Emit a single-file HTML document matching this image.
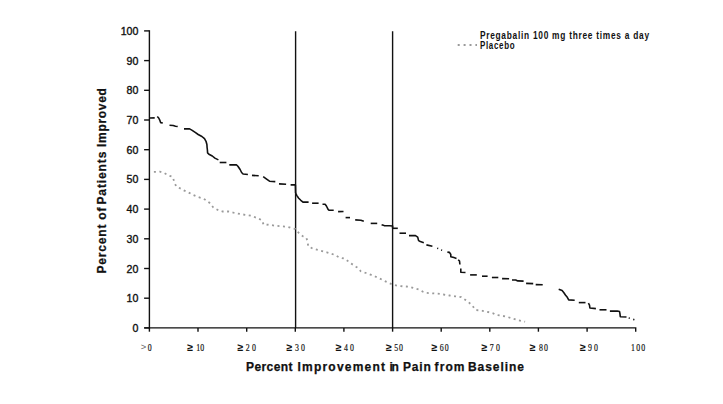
<!DOCTYPE html>
<html><head><meta charset="utf-8"><style>
html,body{margin:0;padding:0;background:#fff;}
body{width:723px;height:404px;overflow:hidden;}
svg{display:block;}
.ax{stroke:#111;stroke-width:1.4;fill:none;}
.pg{stroke:#111;stroke-width:1.6;fill:none;stroke-linejoin:round;stroke-linecap:butt;}
.pl{stroke:#9a9a9a;stroke-width:1.8;fill:none;}
text{font-family:"Liberation Sans",sans-serif;font-weight:bold;fill:#111;}
.yl{font-size:10.6px;font-weight:normal;stroke:#111;stroke-width:0.35px;text-anchor:end;}
.xd{font-family:"Liberation Serif",serif;font-size:10.6px;text-anchor:middle;font-weight:normal;stroke:#111;stroke-width:0.2px;}
.xg{font-size:10.6px;text-anchor:middle;}
.xt{font-size:12px;stroke:#111;stroke-width:0.25px;}
.yt{font-size:12px;stroke:#111;stroke-width:0.25px;}
.lg{font-size:10.2px;letter-spacing:0.9px;}
</style></head><body>
<svg width="723" height="404" viewBox="0 0 723 404">
<rect width="723" height="404" fill="#fff"/>
<line x1="149.4" y1="30.2" x2="149.4" y2="328.6" class="ax"/>
<path d="M144.3 327.9 H635.7 V331.7" class="ax" fill="none"/>
<line x1="144.1" y1="327.9" x2="149.4" y2="327.9" class="ax"/>
<line x1="144.1" y1="298.2" x2="149.4" y2="298.2" class="ax"/>
<line x1="144.1" y1="268.5" x2="149.4" y2="268.5" class="ax"/>
<line x1="144.1" y1="238.8" x2="149.4" y2="238.8" class="ax"/>
<line x1="144.1" y1="209.1" x2="149.4" y2="209.1" class="ax"/>
<line x1="144.1" y1="179.4" x2="149.4" y2="179.4" class="ax"/>
<line x1="144.1" y1="149.7" x2="149.4" y2="149.7" class="ax"/>
<line x1="144.1" y1="120.0" x2="149.4" y2="120.0" class="ax"/>
<line x1="144.1" y1="90.3" x2="149.4" y2="90.3" class="ax"/>
<line x1="144.1" y1="60.6" x2="149.4" y2="60.6" class="ax"/>
<line x1="144.1" y1="30.9" x2="149.4" y2="30.9" class="ax"/>
<line x1="149.4" y1="327.9" x2="149.4" y2="331.7" class="ax"/>
<line x1="198.0" y1="327.9" x2="198.0" y2="331.7" class="ax"/>
<line x1="246.7" y1="327.9" x2="246.7" y2="331.7" class="ax"/>
<line x1="295.3" y1="327.9" x2="295.3" y2="331.7" class="ax"/>
<line x1="343.9" y1="327.9" x2="343.9" y2="331.7" class="ax"/>
<line x1="392.6" y1="327.9" x2="392.6" y2="331.7" class="ax"/>
<line x1="441.2" y1="327.9" x2="441.2" y2="331.7" class="ax"/>
<line x1="489.8" y1="327.9" x2="489.8" y2="331.7" class="ax"/>
<line x1="538.4" y1="327.9" x2="538.4" y2="331.7" class="ax"/>
<line x1="587.1" y1="327.9" x2="587.1" y2="331.7" class="ax"/>
<line x1="295.6" y1="31.3" x2="295.6" y2="327.9" class="ax"/>
<line x1="392.6" y1="31.3" x2="392.6" y2="327.9" class="ax"/>
<text x="138.4" y="331.9" class="yl">0</text>
<text x="138.4" y="302.2" class="yl">10</text>
<text x="138.4" y="272.5" class="yl">20</text>
<text x="138.4" y="242.8" class="yl">30</text>
<text x="138.4" y="213.1" class="yl">40</text>
<text x="138.4" y="183.4" class="yl">50</text>
<text x="138.4" y="153.7" class="yl">60</text>
<text x="138.4" y="124.0" class="yl">70</text>
<text x="138.4" y="94.3" class="yl">80</text>
<text x="138.4" y="64.6" class="yl">90</text>
<text x="138.4" y="34.9" class="yl">100</text>
<text x="143.5" y="350.4" class="xg" style="fill:#666;font-weight:normal;font-size:9.5px">&gt;</text>
<text transform="translate(149.6 351.3) scale(0.74 1)" class="xd">0</text>
<text x="190.1" y="351.1" class="xg">&#8805;</text>
<text transform="translate(198.3 351.3) scale(0.74 1)" class="xd">1</text>
<text transform="translate(202.2 351.3) scale(0.74 1)" class="xd">0</text>
<text x="240.4" y="351.1" class="xg">&#8805;</text>
<text transform="translate(247.7 351.3) scale(0.74 1)" class="xd">2</text>
<text transform="translate(253.9 351.3) scale(0.74 1)" class="xd">0</text>
<text x="289.5" y="351.1" class="xg">&#8805;</text>
<text transform="translate(297.0 351.3) scale(0.74 1)" class="xd">3</text>
<text transform="translate(302.9 351.3) scale(0.74 1)" class="xd">0</text>
<text x="338.7" y="351.1" class="xg">&#8805;</text>
<text transform="translate(346.0 351.3) scale(0.74 1)" class="xd">4</text>
<text transform="translate(352.0 351.3) scale(0.74 1)" class="xd">0</text>
<text x="389.0" y="351.1" class="xg">&#8805;</text>
<text transform="translate(396.2 351.3) scale(0.74 1)" class="xd">5</text>
<text transform="translate(401.0 351.3) scale(0.74 1)" class="xd">0</text>
<text x="434.4" y="351.1" class="xg">&#8805;</text>
<text transform="translate(441.7 351.3) scale(0.74 1)" class="xd">6</text>
<text transform="translate(446.7 351.3) scale(0.74 1)" class="xd">0</text>
<text x="484.5" y="351.1" class="xg">&#8805;</text>
<text transform="translate(491.6 351.3) scale(0.74 1)" class="xd">7</text>
<text transform="translate(497.9 351.3) scale(0.74 1)" class="xd">0</text>
<text x="532.6" y="351.1" class="xg">&#8805;</text>
<text transform="translate(540.9 351.3) scale(0.74 1)" class="xd">8</text>
<text transform="translate(545.9 351.3) scale(0.74 1)" class="xd">0</text>
<text x="582.8" y="351.1" class="xg">&#8805;</text>
<text transform="translate(590.0 351.3) scale(0.74 1)" class="xd">9</text>
<text transform="translate(596.0 351.3) scale(0.74 1)" class="xd">0</text>
<text transform="translate(633.0 351.3) scale(0.74 1)" class="xd">1</text>
<text transform="translate(638.1 351.3) scale(0.74 1)" class="xd">0</text>
<text transform="translate(643.2 351.3) scale(0.74 1)" class="xd">0</text>
<text x="246.04" y="370.8" class="xt" textLength="46.4" lengthAdjust="spacing">Percent</text>
<text x="297.5" y="370.8" class="xt" textLength="87.48" lengthAdjust="spacing">Improvement</text>
<text x="389.5" y="370.8" class="xt" textLength="9.32" lengthAdjust="spacing">in</text>
<text x="402.96" y="370.8" class="xt" textLength="27.82" lengthAdjust="spacing">Pain</text>
<text x="434.58" y="370.8" class="xt" textLength="29.9" lengthAdjust="spacing">from</text>
<text x="467.96" y="370.8" class="xt" textLength="55.94" lengthAdjust="spacing">Baseline</text>
<g transform="translate(105.5 274.4) rotate(-90)"><text x="0.92" y="0" class="yt" textLength="48.98" lengthAdjust="spacing">Percent</text><text x="54.58" y="0" class="yt" textLength="12.36" lengthAdjust="spacing">of</text><text x="69.88" y="0" class="yt" textLength="52.9" lengthAdjust="spacing">Patients</text><text x="127.46" y="0" class="yt" textLength="58.86" lengthAdjust="spacing">Improved</text></g>
<text x="479.9" y="39.0" class="lg" textLength="169.9" lengthAdjust="spacingAndGlyphs">Pregabalin 100 mg three times a day</text>
<text x="479.9" y="49.0" class="lg" textLength="35.4" lengthAdjust="spacingAndGlyphs">Placebo</text>
<line x1="457.7" y1="45" x2="477" y2="45" class="pl" stroke-dasharray="2 3.9"/>
<polyline points="153.9,171.9 159.9,171.7 164.3,173.1 169.0,175.6 172.6,176.8 174.3,181.8 176.1,186.3 182.1,189.3 183.4,190.2 188.2,192.3 192.9,194.9 198.0,197.0 203.8,198.8 209.4,202.7 213.4,207.5 218.3,210.2 222.6,211.5 228.2,211.5 233.4,212.7 239.9,213.9 245.0,214.8 250.7,215.6 253.3,216.5 258.9,218.8 262.0,220.3 263.6,224.8 269.5,224.7 275.6,225.8 281.0,226.3 287.3,226.7 292.5,228.4 295.5,229.0 299.0,233.2 303.3,236.6 306.4,238.0 307.6,241.5 308.2,246.2 313.0,248.7 320.0,250.5 326.8,252.3 334.2,254.7 339.0,257.3 345.0,258.8 351.2,263.6 356.3,266.9 357.8,267.8 360.8,271.3 366.0,273.0 371.2,274.9 375.1,276.5 379.9,278.6 384.6,281.0 389.4,283.2 392.5,284.5 397.6,285.8 403.0,286.3 409.0,286.7 414.5,288.3 418.7,289.5 422.8,291.6 426.6,292.9 432.0,293.3 437.8,293.7 443.5,294.5 449.5,295.5 455.0,296.3 461.2,297.1 462.5,298.0 467.7,301.3 472.5,305.8 475.5,309.9 482.4,310.8 488.0,312.0 493.2,313.4 496.1,314.9 502.1,315.8 507.3,316.9 512.9,318.6 518.8,320.4 525.1,321.7" class="pl" stroke-dasharray="2 3.5"/>
<polyline points="149.8,118.0 154.7,117.9" class="pg"/>
<polyline points="157.3,116.5 158.7,118.0 159.9,120.4 160.6,122.6 162.8,123.0" class="pg"/>
<polyline points="169.5,125.2 173.2,125.5 175.5,126.2 177.7,126.5" class="pg"/>
<polyline points="184.0,128.9 189.6,128.9 191.8,130.1 195.2,132.4 198.2,134.5 201.9,136.5 204.5,138.7 206.0,141.3 206.9,144.5 207.1,147.5 207.4,150.0 207.6,152.9 208.9,154.2 212.3,156.0 214.9,158.1 218.4,159.9" class="pg"/>
<polyline points="219.7,162.5 226.4,162.5" class="pg"/>
<polyline points="229.3,164.9 236.4,164.7 237.9,166.2 240.1,169.5 241.6,172.5 243.1,174.0 247.9,174.5" class="pg"/>
<polyline points="252.0,175.4 258.7,175.8" class="pg"/>
<polyline points="263.2,176.6 266.6,179.1 269.5,181.2 275.3,181.6" class="pg"/>
<polyline points="279.0,183.9 286.1,184.3" class="pg"/>
<polyline points="290.6,184.9 295.4,184.9 295.6,193.0" class="pg"/>
<polyline points="295.6,193.0 296.9,195.6 298.7,198.2 300.8,200.3 303.0,202.1 308.6,202.1" class="pg"/>
<polyline points="312.1,203.2 318.6,203.2" class="pg"/>
<polyline points="322.5,204.2 325.1,204.2 326.4,206.0 328.1,209.4 329.0,210.3 333.7,210.3" class="pg"/>
<polyline points="338.1,211.6 343.5,211.5" class="pg"/>
<polyline points="345.6,217.6 350.0,217.6" class="pg"/>
<polyline points="355.2,219.9 360.8,220.2 363.8,221.3" class="pg"/>
<polyline points="370.7,223.4 377.2,223.4" class="pg"/>
<polyline points="381.6,224.7 384.2,225.6 389.4,225.8 392.6,226.0 392.6,228.3" class="pg"/>
<polyline points="392.6,228.3 397.8,228.3" class="pg"/>
<polyline points="399.5,233.2 406.0,233.2" class="pg"/>
<polyline points="409.0,235.6 415.5,235.6 417.7,237.1 418.6,240.6 420.3,241.5 423.8,242.7" class="pg"/>
<polyline points="426.4,244.9 432.4,246.2" class="pg"/>
<polyline points="437.2,248.3 438.2,248.6" class="pg"/>
<polyline points="441.1,250.0 442.1,250.3" class="pg"/>
<polyline points="447.4,252.1 449.5,252.4 450.8,254.5 450.8,256.7 453.9,257.6 456.5,258.4" class="pg"/>
<polyline points="458.2,259.7 459.5,261.0 459.9,264.5" class="pg"/>
<polyline points="460.8,268.4 460.8,272.3 465.5,272.5" class="pg"/>
<polyline points="470.1,274.9 476.8,274.9" class="pg"/>
<polyline points="482.0,276.2 487.6,276.2" class="pg"/>
<polyline points="491.9,277.5 498.3,277.5" class="pg"/>
<polyline points="502.1,278.6 509.1,278.8" class="pg"/>
<polyline points="512.0,280.0 515.7,280.0 517.8,280.9 523.6,281.1" class="pg"/>
<polyline points="526.1,283.4 533.2,283.6" class="pg"/>
<polyline points="535.7,284.6 542.7,284.8" class="pg"/>
<polyline points="558.7,289.3 562.1,290.6 563.9,292.8 565.4,295.0 567.3,297.3 568.7,299.9 574.7,300.2" class="pg"/>
<polyline points="578.8,302.6 585.5,302.6" class="pg"/>
<polyline points="588.4,303.2 589.5,305.1 589.9,308.0 595.9,308.6" class="pg"/>
<polyline points="599.5,309.8 606.5,309.8" class="pg"/>
<polyline points="609.9,311.1 617.3,311.0 619.5,311.5 619.9,313.4 620.3,316.7 626.5,317.0" class="pg"/>
<polyline points="628.7,318.0 629.8,318.3" class="pg"/>
<polyline points="633.2,319.4 634.4,319.7" class="pg"/>
</svg>
</body></html>
